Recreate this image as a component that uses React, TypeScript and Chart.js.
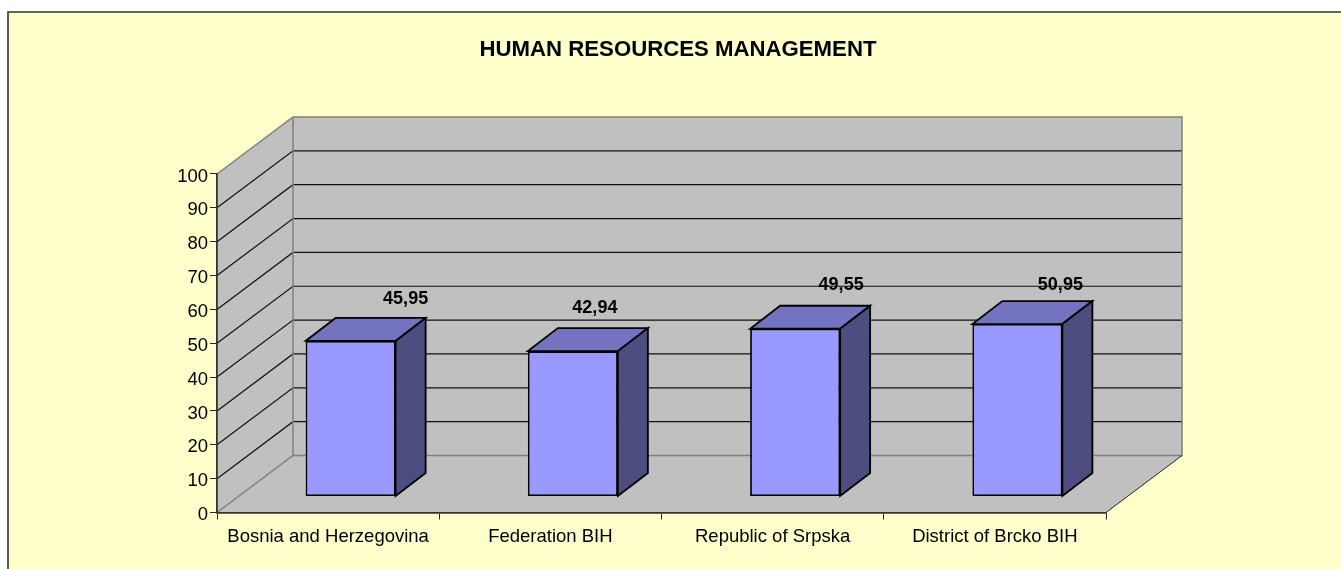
import React, { useEffect, useRef } from "react";
import { Chart, registerables } from "chart.js";

Chart.register(...registerables);

const categories = ["Bosnia and Herzegovina", "Federation BIH", "Republic of Srpska", "District of Brcko BIH"];
const values = [45.95, 42.94, 49.55, 50.95];
const chartTitle = "HUMAN RESOURCES MANAGEMENT";
const labelNudgeX = [55, 22, 46, 43];
const labelNudgeY = [-42, -43, -44, -39];

const FONT = "'Liberation Sans', Arial, sans-serif";
const WALL_DX = 76;
const WALL_DY = -57;
const BASE_DX = 22.5;
const BASE_DY = -16;
const BAR_DX = 30;
const BAR_DY = -23;
const YELLOW = "#FFFFCC";
const GREY = "#C0C0C0";
const WALL_EDGE = "#808080";

function poly(ctx: CanvasRenderingContext2D, pts: number[][], fill: string | null, stroke: string | null, lw = 1) {
  ctx.beginPath();
  pts.forEach((p, i) => (i ? ctx.lineTo(p[0], p[1]) : ctx.moveTo(p[0], p[1])));
  if (fill) {
    ctx.closePath();
    ctx.fillStyle = fill;
    ctx.fill();
  }
  if (stroke) {
    ctx.strokeStyle = stroke;
    ctx.lineWidth = lw;
    ctx.stroke();
  }
}

const scene3d = {
  id: "scene3d",
  beforeDraw(chart: any) {
    const { ctx, chartArea: a, scales, width, height } = chart;
    ctx.save();
    ctx.fillStyle = YELLOW;
    ctx.fillRect(0, 0, width, height);
    poly(ctx, [[1, height], [1, 1], [width, 1]], null, "#333333", 1.6);
    const l = a.left, r = a.right, t = a.top, b = a.bottom;
    const d = (x: number, y: number) => [x + WALL_DX, y + WALL_DY];
    poly(ctx, [[l, b], [r, b], d(r, b), d(l, b)], GREY, null);
    poly(ctx, [[l, b], [l, t], d(l, t), d(l, b)], GREY, null);
    poly(ctx, [d(l, t), d(r, t), d(r, b), d(l, b)], GREY, null);
    for (const tick of scales.y.ticks) {
      const y = scales.y.getPixelForValue(tick.value);
      if (tick.value === 0 || tick.value === 100) continue;
      poly(ctx, [[l, y], d(l, y), d(r, y)], null, "#111111", 1.2);
    }
    poly(ctx, [[l, t], d(l, t), d(r, t), d(r, b), d(l, b), [l, b]], null, WALL_EDGE, 1.5);
    poly(ctx, [d(l, t), d(l, b)], null, WALL_EDGE, 1.5);
    poly(ctx, [[r, b], d(r, b)], null, "#222222", 1);
    ctx.restore();
  },
  beforeDatasetsDraw(chart: any) {
    const { ctx } = chart;
    ctx.save();
    ctx.translate(BASE_DX, BASE_DY);
    ctx.lineJoin = "miter";
    for (const bar of chart.getDatasetMeta(0).data) {
      const x0 = bar.x - bar.width / 2;
      const x1 = bar.x + bar.width / 2;
      const top = bar.y;
      const base = bar.base;
      poly(ctx, [[x0, top], [x1, top], [x1 + BAR_DX, top + BAR_DY], [x0 + BAR_DX, top + BAR_DY]], "#7373BF", "#000000", 1.8);
      poly(ctx, [[x1, top], [x1 + BAR_DX, top + BAR_DY], [x1 + BAR_DX, base + BAR_DY], [x1, base]], "#4D4D80", "#000000", 1.8);
    }
  },
  afterDatasetsDraw(chart: any) {
    const { ctx } = chart;
    ctx.restore();
    ctx.save();
    ctx.font = `bold 18px ${FONT}`;
    ctx.fillStyle = "#000000";
    ctx.textAlign = "center";
    ctx.textBaseline = "middle";
    chart.getDatasetMeta(0).data.forEach((bar: any, i: number) => {
      const label = String(values[i]).replace(".", ",");
      ctx.fillText(label, bar.x + BASE_DX + labelNudgeX[i], bar.y + BASE_DY + labelNudgeY[i]);
    });
    ctx.restore();
  },
};

export default function App() {
  const ref = useRef<HTMLCanvasElement | null>(null);
  useEffect(() => {
    const chart = new Chart(ref.current as HTMLCanvasElement, {
      type: "bar",
      data: {
        labels: categories,
        datasets: [
          {
            data: values,
            backgroundColor: "#9999FF",
            borderColor: "#000000",
            borderWidth: 1.8,
            borderSkipped: false,
            categoryPercentage: 1,
            barPercentage: 0.405,
            clip: false as any,
          },
        ],
      },
      options: {
        animation: false,
        responsive: false,
        layout: { padding: { left: 0, right: 0, top: 0, bottom: 58.5 } },
        plugins: {
          legend: { display: false },
          tooltip: { enabled: false },
          title: {
            display: true,
            text: chartTitle,
            color: "#000000",
            font: { family: FONT, size: 22.2, weight: "bold" },
            padding: { top: 25.7, bottom: 110.66 },
          },
        },
        scales: {
          x: {
            grid: { drawOnChartArea: false, tickLength: 7, color: "#222222", offset: true },
            border: { color: "#333333", width: 1.8 },
            ticks: { color: "#000000", font: { family: FONT, size: 18.5 }, padding: 6, maxRotation: 0 },
            afterFit: (s: any) => { s.height = 40; },
          },
          y: {
            min: 0,
            max: 100,
            grid: { drawOnChartArea: false, tickLength: 7, color: "#222222" },
            border: { color: "#333333", width: 1.8 },
            ticks: { stepSize: 10, color: "#000000", font: { family: FONT, size: 18.5 }, padding: 2, labelOffset: 2.5 },
            afterFit: (s: any) => { s.width = 210; },
          },
          spacer: {
            type: "linear",
            position: "right",
            grid: { display: false },
            border: { display: false },
            ticks: { display: false },
            afterFit: (s: any) => { s.width = 243; },
          },
        },
      },
      plugins: [scene3d],
    } as any);
    return () => chart.destroy();
  }, []);
  return (
    <div style={{ position: "absolute", left: 0, top: 0, width: 1341, height: 569, overflow: "hidden", background: "#FFFFFF" }}>
      <canvas ref={ref} width={1342} height={600} style={{ position: "absolute", left: 7, top: 11, width: 1342, height: 600 }} />
    </div>
  );
}
